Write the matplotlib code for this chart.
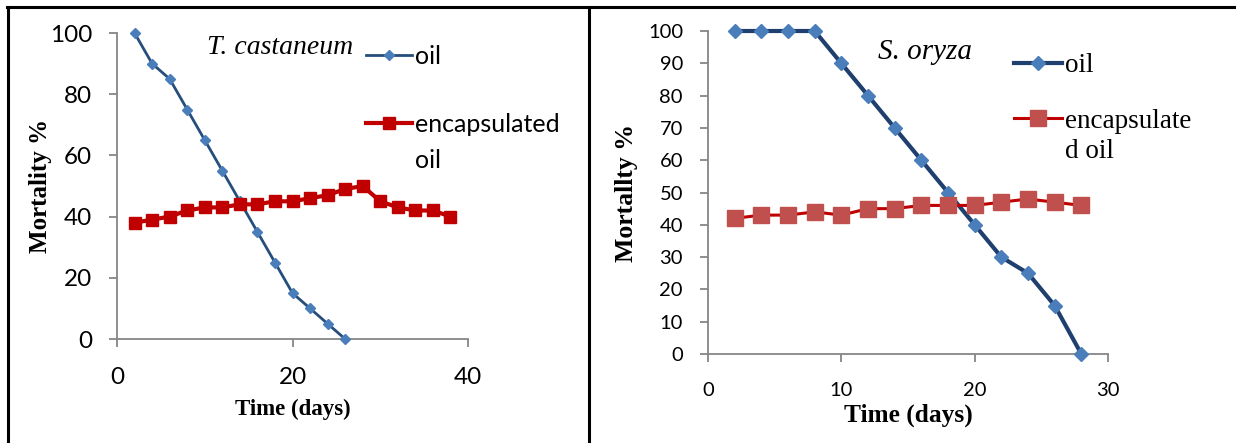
import matplotlib.pyplot as plt
from matplotlib.lines import Line2D

# T. castaneum
days_t_oil = [2, 4, 6, 8, 10, 12, 14, 16, 18, 20, 22, 24, 26]
mort_t_oil = [100, 90, 85, 75, 65, 55, 45, 35, 25, 15, 10, 5, 0]
days_t_enc = [2, 4, 6, 8, 10, 12, 14, 16, 18, 20, 22, 24, 26, 28, 30, 32, 34, 36, 38]
mort_t_enc = [38, 39, 40, 42, 43, 43, 44, 44, 45, 45, 46, 47, 49, 50, 45, 43, 42, 42, 40]

# S. oryza
days_s = [2, 4, 6, 8, 10, 12, 14, 16, 18, 20, 22, 24, 26, 28]
mort_s_oil = [100, 100, 100, 100, 90, 80, 70, 60, 50, 40, 30, 25, 15, 0]
mort_s_enc = [42, 43, 43, 44, 43, 45, 45, 46, 46, 46, 47, 48, 47, 46]

W, H = 1236, 443
fig = plt.figure(figsize=(W / 100, H / 100), dpi=100)


def fx(x):
    return x / W


def fy(y):
    return 1 - y / H


# table border lines
lw_b = 2.2
fig.add_artist(Line2D([fx(7.5)] * 2, [0, fy(7)], color="black", lw=lw_b))
fig.add_artist(Line2D([fx(589)] * 2, [0, fy(7)], color="black", lw=lw_b))
fig.add_artist(Line2D([fx(6.5), 1], [fy(7)] * 2, color="black", lw=lw_b))

tick_font = "Lato"
serif = "Liberation Serif"
gray = "#868686"

blue_line1, blue_line2 = "#254E7C", "#1F3F6E"
blue_mk = "#4A7EBB"
red1 = "#C00000"
red_mk2 = "#C0504D"


def style_axes(ax, size):
    for s in ["top", "right"]:
        ax.spines[s].set_visible(False)
    for s in ["left", "bottom"]:
        ax.spines[s].set_color(gray)
        ax.spines[s].set_linewidth(1.3)
    ax.tick_params(axis="both", direction="out", color=gray, width=1.3, length=6)
    ax.tick_params(axis="x", pad=14)
    ax.tick_params(axis="y", pad=12)
    for lab in ax.get_xticklabels() + ax.get_yticklabels():
        lab.set_fontfamily(tick_font)
        lab.set_fontsize(size)


def legend_entry(x0, x1, y, line_kw, text, fam, size, dy):
    # legend key drawn by hand: x0..x1, y in figure pixels
    xm = (x0 + x1) / 2
    fig.add_artist(Line2D([fx(x0), fx(xm), fx(x1)], [fy(y)] * 3,
                          markevery=[1], **line_kw))
    for i, t in enumerate(text.split("\n")):
        fig.text(fx(x1 + 3), fy(y + i * dy), t, fontfamily=fam, fontsize=size,
                 va="center_baseline", ha="left")


# ---- left panel ----
ax1 = fig.add_axes([fx(117), fy(339), (468 - 117) / W, (339 - 33) / H])
ax1.plot(days_t_oil, mort_t_oil, color=blue_line1, lw=2, marker="D", ms=5,
         mfc=blue_mk, mec=blue_mk, zorder=3, clip_on=False)
ax1.plot(days_t_enc, mort_t_enc, color=red1, lw=3, marker="s", ms=9,
         mfc=red1, mec=red1, zorder=4, clip_on=False)
ax1.set_xlim(0, 40)
ax1.set_ylim(0, 100)
ax1.set_xticks([0, 20, 40])
ax1.set_yticks([0, 20, 40, 60, 80, 100])
style_axes(ax1, 17.5)
ax1.set_xlabel("Time (days)", fontfamily=serif, fontweight="bold", fontsize=16.5)
ax1.set_ylabel("Mortality %", fontfamily=serif, fontweight="bold", fontsize=18)
ax1.xaxis.set_label_coords(0.5, -0.195)
ax1.yaxis.set_label_coords(-0.185, 0.5)
ax1.text(0.256, 0.954, "T. castaneum", transform=ax1.transAxes, fontfamily=serif,
         style="italic", fontsize=20, va="center", ha="left")
legend_entry(366, 412, 55, dict(color=blue_line1, lw=2, marker="D", ms=5,
                                mfc=blue_mk, mec=blue_mk),
             "oil", tick_font, 18, 35)
legend_entry(366, 412, 123, dict(color=red1, lw=3, marker="s", ms=9,
                                 mfc=red1, mec=red1),
             "encapsulated\noil", tick_font, 18, 35)

# ---- right panel ----
ax2 = fig.add_axes([fx(708), fy(354), (1108 - 708) / W, (354 - 31) / H])
ax2.plot(days_s, mort_s_oil, color=blue_line2, lw=3, marker="D", ms=7.5,
         mfc=blue_mk, mec=blue_mk, zorder=3, clip_on=False)
ax2.plot(days_s, mort_s_enc, color=red1, lw=2.2, marker="s", ms=11,
         mfc=red_mk2, mec=red_mk2, zorder=4, clip_on=False)
ax2.set_xlim(0, 30)
ax2.set_ylim(0, 100)
ax2.set_xticks([0, 10, 20, 30])
ax2.set_yticks(range(0, 101, 10))
style_axes(ax2, 14.5)
ax2.set_xlabel("Time (days)", fontfamily=serif, fontweight="bold", fontsize=18.3)
ax2.set_ylabel("Mortallty %", fontfamily=serif, fontweight="bold", fontsize=18.5)
ax2.xaxis.set_label_coords(0.5, -0.155)
ax2.yaxis.set_label_coords(-0.175, 0.5)
ax2.text(0.425, 0.935, "S. oryza", transform=ax2.transAxes, fontfamily=serif,
         style="italic", fontsize=21, va="center", ha="left")
legend_entry(1014, 1062, 63, dict(color=blue_line2, lw=3, marker="D", ms=7.5,
                                  mfc=blue_mk, mec=blue_mk),
             "oil", serif, 19.5, 30)
legend_entry(1014, 1062, 118, dict(color=red1, lw=2.2, marker="s", ms=11,
                                   mfc=red_mk2, mec=red_mk2),
             "encapsulate\nd oil", serif, 19.5, 30)

fig.savefig("out.png", dpi=100)
